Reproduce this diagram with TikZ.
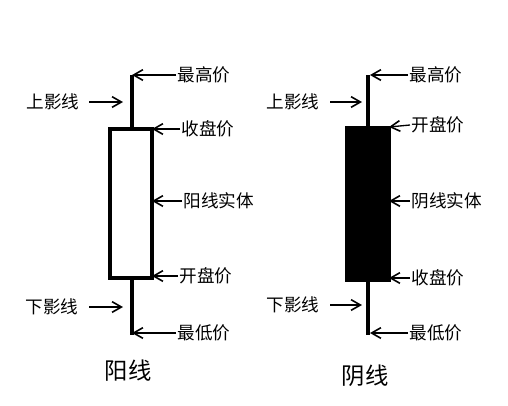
\documentclass[tikz,border=0pt]{standalone}
\usepackage{fontspec}
\newfontfamily\cjk{Noto Sans CJK SC}
\usetikzlibrary{arrows.meta}
\begin{document}
\begin{tikzpicture}[x=0.75pt,y=-0.75pt,
  lbl/.style={font=\cjk\fontsize{13.2}{14}\selectfont, inner sep=1pt},
  title/.style={font=\cjk\fontsize{17.5}{19}\selectfont, inner sep=0pt},
  pointer/.style={-{Straight Barb[length=7pt,width=8pt,line width=1.2pt]}, line width=1pt},
  candle/.style={line width=2.4pt, line join=miter},
  wick/.style={line width=2.4pt}]
\useasboundingbox (0,0) rectangle (508,405);
% ---------- left candle (阳线) ----------
\coordinate (Lhigh) at (132,75);
\coordinate (Llow) at (132,335);
\coordinate (LtopC) at (132,129);
\coordinate (LbotC) at (132,278);
\draw[wick] (Lhigh) -- (LtopC);
\draw[wick] (LbotC) -- (Llow);
\draw[candle, fill=white] (110,129) rectangle (152,278);
\coordinate (Lclose) at (152,129);
\coordinate (Lbody) at (152,201);
\coordinate (Lopen) at (152,276);
\coordinate (Lup) at (123,102);
\coordinate (Ldn) at (123,307);
\node[lbl, anchor=west] (lh) at (176,75) {最高价};
\node[lbl, anchor=west] (lc) at (180,129) {收盘价};
\node[lbl, anchor=west] (lb) at (182,201) {阳线实体};
\node[lbl, anchor=west] (lo) at (178,276) {开盘价};
\node[lbl, anchor=west] (ll) at (176,333) {最低价};
\node[lbl, anchor=east] (lu) at (81,102) {上影线};
\node[lbl, anchor=east] (ld) at (80,307) {下影线};
\node[title] (lt) at (128,371) {阳线};
\draw[pointer] (lh.west) -- (Lhigh);
\draw[pointer] (lc.west) -- (Lclose);
\draw[pointer] (lb.west) -- (Lbody);
\draw[pointer] (lo.west) -- (Lopen);
\draw[pointer] (ll.west) -- (132,333);
\draw[pointer] (89,102) -- (Lup);
\draw[pointer] (89,307) -- (Ldn);
% ---------- right candle (阴线) ----------
\coordinate (Rhigh) at (368,75);
\coordinate (Rlow) at (368,335);
\coordinate (RtopC) at (368,128);
\coordinate (RbotC) at (368,280);
\draw[wick] (Rhigh) -- (RtopC);
\draw[wick] (RbotC) -- (Rlow);
\draw[candle, fill=black] (347,128) rectangle (389,280);
\coordinate (Ropen) at (389,127);
\coordinate (Rbody) at (389,201);
\coordinate (Rclose) at (389,278);
\coordinate (Rup) at (362,102);
\coordinate (Rdn) at (362,305);
\node[lbl, anchor=west] (rh) at (408,75) {最高价};
\node[lbl, anchor=west] (ro) at (410,125) {开盘价};
\node[lbl, anchor=west] (rb) at (410,201) {阴线实体};
\node[lbl, anchor=west] (rc) at (410,278) {收盘价};
\node[lbl, anchor=west] (rl) at (408,333) {最低价};
\node[lbl, anchor=east] (ru) at (321,102) {上影线};
\node[lbl, anchor=east] (rd) at (321,305) {下影线};
\node[title] (rt) at (365,376) {阴线};
\draw[pointer] (rh.west) -- (370,75);
\draw[pointer] (ro.west) -- (Ropen);
\draw[pointer] (rb.west) -- (Rbody);
\draw[pointer] (rc.west) -- (Rclose);
\draw[pointer] (rl.west) -- (370,333);
\draw[pointer] (330,102) -- (Rup);
\draw[pointer] (330,305) -- (Rdn);
\end{tikzpicture}
\end{document}
